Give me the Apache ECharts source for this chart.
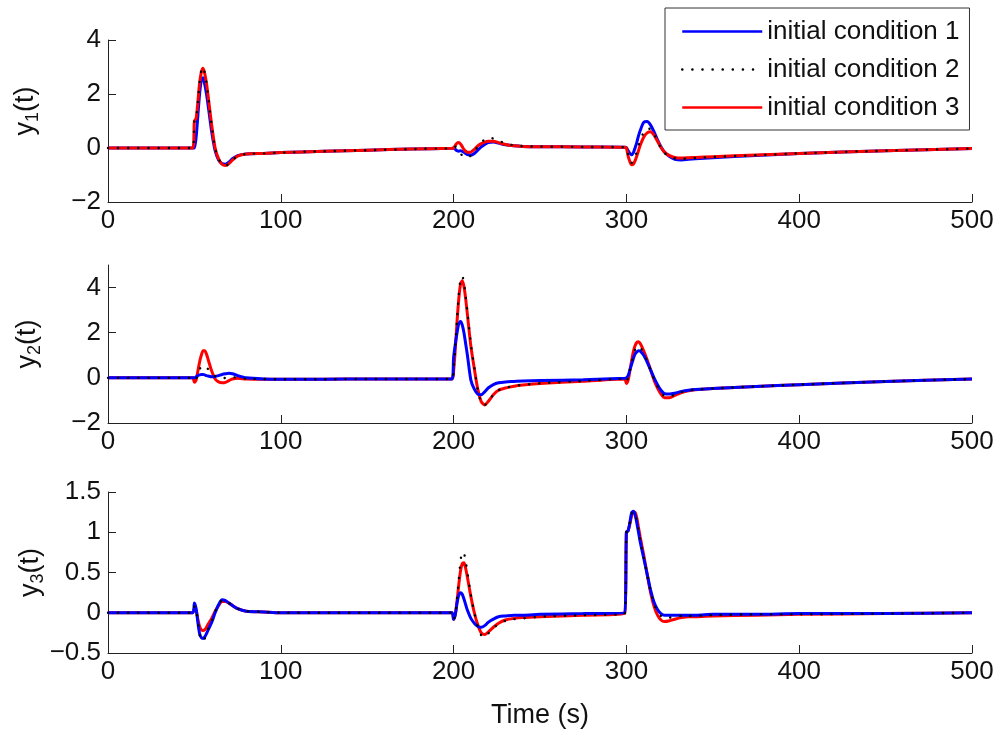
<!DOCTYPE html>
<html>
<head>
<meta charset="utf-8">
<script src="https://cdn.jsdelivr.net/npm/echarts@6/dist/echarts.min.js"></script>
<style>
  html, body { margin: 0; padding: 0; background: #fff; }
  #chart { width: 998px; height: 733px; }
</style>
</head>
<body>
<div id="chart"></div>
<script>
// Sample times (s), shared by every trace
const T = [
  0, 49, 50, 51, 52, 53, 54, 55, 56, 57, 58,
  60, 62, 64, 66, 68, 70, 72,
  75, 80, 90, 100, 125, 150, 175, 199,
  200, 201, 202, 203, 204, 205, 206, 207, 208,
  210, 212, 214, 216, 218, 220,
  223, 226, 230, 235, 240, 250, 275, 299,
  300, 301, 302, 303, 304, 305, 306, 307, 308,
  310, 312, 314, 316, 318, 320, 322,
  325, 328, 332, 336, 340, 350, 375, 400, 450, 500
];

const legendNames = ['initial condition 1', 'initial condition 2', 'initial condition 3'];
const xTicks = [0, 100, 200, 300, 400, 500];

// Output y1
const y1_ic1 = [
  0, 0, 0, 0.4, 1.2, 2.0, 2.5, 2.6, 2.35, 2.0, 1.55,
  0.6, -0.1, -0.45, -0.58, -0.6, -0.52, -0.4,
  -0.28, -0.22, -0.2, -0.17, -0.12, -0.08, -0.04, -0.01,
  0, -0.05, -0.1, -0.12, -0.1, -0.12, -0.16, -0.2, -0.24,
  -0.26, -0.2, -0.08, 0.04, 0.13, 0.2,
  0.22, 0.18, 0.12, 0.08, 0.06, 0.05, 0.04, 0.03,
  0.02, -0.1, -0.2, -0.25, -0.18, 0.0, 0.2, 0.45, 0.65,
  0.95, 0.98, 0.85, 0.6, 0.3, 0.05, -0.15,
  -0.32, -0.42, -0.44, -0.42, -0.4, -0.36, -0.28, -0.2, -0.1, -0.02
];
const y1_ic2 = [
  0, 0, 1.0, 1.12, 1.72, 2.45, 2.88, 3.0, 2.78, 2.4, 1.9,
  0.85, 0.0, -0.4, -0.6, -0.66, -0.58, -0.45,
  -0.3, -0.22, -0.2, -0.17, -0.12, -0.08, -0.04, -0.01,
  0, 0.05, 0.0, -0.1, -0.2, -0.28, -0.33, -0.36, -0.35,
  -0.28, -0.12, 0.05, 0.2, 0.32, 0.38,
  0.35, 0.27, 0.17, 0.1, 0.07, 0.05, 0.04, 0.03,
  0.0, -0.25, -0.45, -0.55, -0.5, -0.35, -0.15, 0.08, 0.28,
  0.58, 0.72, 0.7, 0.52, 0.25, 0.0, -0.18,
  -0.3, -0.38, -0.4, -0.39, -0.37, -0.33, -0.27, -0.2, -0.1, -0.02
];
const y1_ic3 = [
  0, 0, 1.0, 1.1, 1.7, 2.4, 2.8, 2.95, 2.75, 2.4, 1.9,
  0.85, 0.0, -0.4, -0.6, -0.65, -0.58, -0.45,
  -0.3, -0.22, -0.2, -0.17, -0.12, -0.08, -0.04, -0.01,
  0, 0.1, 0.18, 0.2, 0.15, 0.05, -0.05, -0.12, -0.16,
  -0.15, -0.05, 0.08, 0.16, 0.22, 0.25,
  0.25, 0.2, 0.13, 0.08, 0.06, 0.05, 0.04, 0.03,
  0.0, -0.3, -0.5, -0.62, -0.6, -0.48, -0.3, -0.1, 0.1,
  0.4, 0.56, 0.6, 0.48, 0.25, 0.02, -0.15,
  -0.28, -0.35, -0.37, -0.36, -0.35, -0.32, -0.26, -0.2, -0.1, -0.02
];

// Output y2
const y2_ic1 = [
  0, 0, 0, 0.05, 0.1, 0.13, 0.15, 0.15, 0.13, 0.1, 0.08,
  0.05, 0.06, 0.1, 0.15, 0.18, 0.2, 0.18,
  0.1, 0.0, -0.05, -0.06, -0.06, -0.05, -0.05, -0.05,
  0.9, 1.5, 2.0, 2.4, 2.5, 2.35, 2.0, 1.5, 1.0,
  -0.1, -0.5, -0.72, -0.75, -0.62, -0.45,
  -0.3, -0.22, -0.18, -0.16, -0.14, -0.12, -0.08, -0.02,
  0.0, 0.1, 0.35, 0.6, 0.85, 1.05, 1.15, 1.2, 1.18,
  1.0, 0.7, 0.35, 0.0, -0.3, -0.55, -0.7,
  -0.72, -0.68, -0.6, -0.55, -0.52, -0.47, -0.38, -0.3, -0.16, -0.05
];
const y2_ic2 = [
  0, 0, -0.1, -0.05, 0.2, 0.38, 0.5, 0.55, 0.52, 0.45, 0.38,
  0.22, 0.08, 0.0, -0.02, 0.0, 0.02, 0.03,
  0.0, -0.04, -0.05, -0.06, -0.06, -0.05, -0.05, -0.05,
  0.4, 1.4, 2.6, 3.7, 4.35, 4.5, 4.2, 3.6, 2.9,
  1.5, 0.45, -0.55, -1.1, -1.2, -1.05,
  -0.75, -0.55, -0.44, -0.36, -0.31, -0.24, -0.14, -0.04,
  -0.15, 0.0, 0.33, 0.68, 1.0, 1.25, 1.38, 1.4, 1.35,
  1.1, 0.75, 0.35, -0.05, -0.38, -0.63, -0.8,
  -0.82, -0.75, -0.63, -0.56, -0.52, -0.47, -0.38, -0.3, -0.16, -0.05
];
const y2_ic3 = [
  0, 0, -0.2, -0.1, 0.3, 0.7, 1.0, 1.2, 1.2, 1.05, 0.8,
  0.3, -0.05, -0.18, -0.22, -0.2, -0.12, -0.05,
  -0.02, -0.05, -0.06, -0.06, -0.06, -0.05, -0.05, -0.05,
  0.3, 1.3, 2.5, 3.5, 4.15, 4.3, 4.05, 3.5, 2.8,
  1.4, 0.4, -0.5, -1.05, -1.2, -1.05,
  -0.75, -0.55, -0.45, -0.37, -0.32, -0.25, -0.15, -0.05,
  -0.25, -0.1, 0.3, 0.75, 1.15, 1.42, 1.57, 1.6, 1.52,
  1.2, 0.8, 0.35, -0.1, -0.45, -0.72, -0.88,
  -0.88, -0.78, -0.65, -0.57, -0.53, -0.47, -0.38, -0.3, -0.16, -0.05
];

// Output y3
const y3_ic1 = [
  0, 0, 0.12, 0.05, -0.12, -0.26, -0.31, -0.32, -0.3, -0.26, -0.21,
  -0.12, 0.0, 0.1, 0.16, 0.15, 0.12, 0.09,
  0.05, 0.02, 0.01, 0.0, 0.0, 0.0, 0.0, 0.0,
  -0.08, -0.02, 0.12, 0.22, 0.25, 0.23, 0.17, 0.1, 0.03,
  -0.07, -0.13, -0.17, -0.18, -0.16, -0.12,
  -0.08, -0.05, -0.04, -0.03, -0.03, -0.02, -0.01, 0.0,
  1.0, 1.02, 1.12, 1.24, 1.26, 1.22, 1.12, 1.0, 0.88,
  0.68, 0.48, 0.28, 0.13, 0.04, -0.01, -0.03,
  -0.03, -0.03, -0.03, -0.03, -0.03, -0.02, -0.02, -0.01, -0.01, 0.0
];
const y3_ic2 = [
  0, 0, 0.08, 0.04, -0.12, -0.27, -0.34, -0.35, -0.32, -0.27, -0.2,
  -0.1, 0.01, 0.1, 0.15, 0.15, 0.12, 0.09,
  0.05, 0.02, 0.01, 0.0, 0.0, 0.0, 0.0, 0.0,
  -0.08, -0.02, 0.18, 0.42, 0.64, 0.75, 0.74, 0.64, 0.5,
  0.22, 0.0, -0.17, -0.28, -0.3, -0.26,
  -0.19, -0.14, -0.1, -0.08, -0.07, -0.05, -0.03, -0.01,
  1.0, 1.02, 1.12, 1.23, 1.26, 1.23, 1.14, 1.02, 0.9,
  0.69, 0.48, 0.27, 0.11, 0.02, -0.04, -0.06,
  -0.06, -0.05, -0.04, -0.04, -0.04, -0.03, -0.02, -0.02, -0.01, 0.0
];
const y3_ic3 = [
  0, 0, 0.06, 0.03, -0.08, -0.17, -0.21, -0.22, -0.21, -0.18, -0.14,
  -0.07, 0.02, 0.09, 0.14, 0.14, 0.12, 0.09,
  0.05, 0.02, 0.01, 0.0, 0.0, 0.0, 0.0, 0.0,
  -0.08, -0.02, 0.15, 0.35, 0.52, 0.61, 0.62, 0.55, 0.44,
  0.2, 0.0, -0.15, -0.25, -0.27, -0.24,
  -0.18, -0.13, -0.09, -0.07, -0.06, -0.05, -0.03, -0.01,
  1.0, 1.02, 1.1, 1.2, 1.25, 1.25, 1.18, 1.06, 0.94,
  0.72, 0.48, 0.25, 0.08, -0.03, -0.09, -0.11,
  -0.1, -0.08, -0.06, -0.05, -0.05, -0.04, -0.03, -0.02, -0.01, 0.0
];

// Y-axis ranges and tick positions
const yRanges = [[-2, 4], [-2, 5], [-0.5, 1.5]];
const yTicks = [[-2, 0, 2, 4], [-2, 0, 2, 4], [-0.5, 0, 0.5, 1, 1.5]];
const yNames = ['1', '2', '3'];

const FONT = 'Arial, "Liberation Sans", Helvetica, sans-serif';
const AXIS = '#222';
const TEXT = '#111';

const grids = [
  { left: 108, right: 26, top: 40, height: 162 },
  { left: 108, right: 26, top: 265, height: 158 },
  { left: 108, right: 26, top: 492, height: 161 }
];

const fmt = v => String(v).replace('-', '\u2212');

const xAxes = grids.map((g, i) => ({
  gridIndex: i,
  type: 'value',
  min: 0, max: 500, interval: 100,
  axisLine: { show: true, onZero: false, lineStyle: { color: AXIS, width: 1 } },
  axisTick: { show: true, inside: true, length: 8, customValues: xTicks, lineStyle: { color: AXIS } },
  axisLabel: { customValues: xTicks, fontSize: 26, color: TEXT, fontFamily: FONT, margin: 6 },
  splitLine: { show: false },
  name: i === 2 ? 'Time (s)' : '',
  nameLocation: 'middle',
  nameGap: 49,
  nameMoveOverlap: false,
  nameTextStyle: { fontSize: 27, color: TEXT, fontFamily: FONT }
}));

// Distance of each y title from its axis, and its shift along the axis
const yGaps = [66, 64, 61];
const yShift = [[0, 0, 0, 20], [0, 0, 0, 0], [0, 0, 0, 0]];
const yAxes = grids.map((g, i) => ({
  gridIndex: i,
  type: 'value',
  min: yRanges[i][0], max: yRanges[i][1],
  axisLine: { show: true, onZero: false, lineStyle: { color: AXIS, width: 1 } },
  axisTick: { show: true, inside: true, length: 8, customValues: yTicks[i], lineStyle: { color: AXIS } },
  axisLabel: { customValues: yTicks[i], formatter: fmt, fontSize: 26, color: TEXT, fontFamily: FONT, margin: 7 },
  splitLine: { show: false },
  name: '{m|y}{s|' + yNames[i] + '}{m|(t)}',
  nameLocation: 'middle',
  nameRotate: 90,
  nameGap: yGaps[i],
  nameMoveOverlap: false,
  nameTextStyle: {
    padding: yShift[i],
    rich: {
      m: { fontSize: 27, lineHeight: 32, color: TEXT, fontFamily: FONT, verticalAlign: 'middle' },
      s: { fontSize: 18, lineHeight: 18, color: TEXT, fontFamily: FONT, verticalAlign: 'bottom' }
    }
  }
}));

const pair = vals => T.map((t, i) => [t, vals[i]]);

function trace(name, vals, idx, kind, z) {
  const base = {
    name, type: 'line', xAxisIndex: idx, yAxisIndex: idx,
    data: pair(vals), symbol: 'none', showSymbol: false, smooth: 0.25,
    z, silent: true
  };
  if (kind === 'blue') base.lineStyle = { color: '#0000ff', width: 3 };
  if (kind === 'red') base.lineStyle = { color: '#ff0000', width: 3 };
  if (kind === 'dot') base.lineStyle = { color: '#000', width: 2.4, type: [0.1, 10], cap: 'round' };
  base.itemStyle = { color: base.lineStyle.color };
  return base;
}

const sets = [[y1_ic1, y1_ic2, y1_ic3], [y2_ic1, y2_ic2, y2_ic3], [y3_ic1, y3_ic2, y3_ic3]];
const series = [];
sets.forEach((s, i) => {
  const blueOnTop = i > 0;
  series.push(trace(legendNames[0], s[0], i, 'blue', blueOnTop ? 3 : 2));
  series.push(trace(legendNames[1], s[1], i, 'dot', 4));
  series.push(trace(legendNames[2], s[2], i, 'red', blueOnTop ? 2 : 3));
});

const chart = echarts.init(document.getElementById('chart'), null, { renderer: 'canvas' });
chart.setOption({
  animation: false,
  backgroundColor: '#fff',
  grid: grids,
  xAxis: xAxes,
  yAxis: yAxes,
  legend: {
    data: legendNames,
    orient: 'vertical',
    left: 665, top: 8,
    padding: [10, 10, 9, 16],
    itemGap: 11,
    itemWidth: 80,
    itemHeight: 14,
    itemStyle: { opacity: 0 },
    lineStyle: { width: 2.5 },
    backgroundColor: '#fff',
    borderColor: '#333',
    borderWidth: 1,
    selectedMode: false,
    textStyle: { fontSize: 26, lineHeight: 27, color: TEXT, fontFamily: FONT }
  },
  series
});
</script>
</body>
</html>
